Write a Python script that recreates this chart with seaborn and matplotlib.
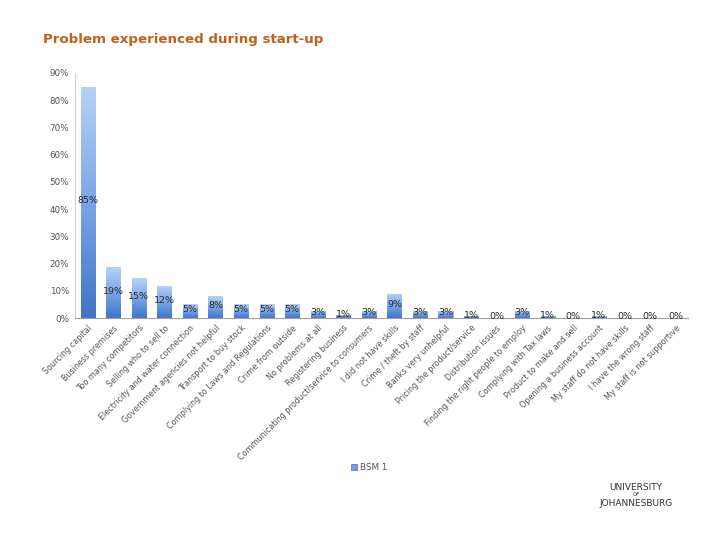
import matplotlib
matplotlib.use("Agg")
import matplotlib.pyplot as plt
import numpy as np
import pandas as pd
import seaborn as sns
from matplotlib.colors import LinearSegmentedColormap

categories = [
    "Sourcing capital", "Business premises", "Too many competitors",
    "Selling who to sell to", "Electricity and water connection",
    "Government agencies not helpful", "Transport to buy stock",
    "Complying to Laws and Regulations", "Crime from outside",
    "No problems at all", "Registering business",
    "Communicating product/service to consumers", "I did not have skills",
    "Crime / theft by staff", "Banks very unhelpful",
    "Pricing the product/service", "Distribution issues",
    "Finding the right people to employ", "Complying with Tax laws",
    "Product to make and sell", "Opening a business account",
    "My staff do not have skills", "I have the wrong staff",
    "My staff is not supportive",
]
values = [85, 18.6, 14.6, 11.8, 5, 8, 5, 5, 5, 2.6, 1.2, 2.6, 9, 2.6, 2.6,
          0.8, 0, 2.6, 0.7, 0, 0.7, 0, 0, 0]
y_ticks = [0, 10, 20, 30, 40, 50, 60, 70, 80, 90]
series_name = "BSM 1"

df = pd.DataFrame({"Problem": categories, "Percent": values, "Series": series_name})

sns.set_theme(style="white")
plt.rcParams["font.family"] = ["DejaVu Sans"]

fig = plt.figure(figsize=(7.2, 5.4), dpi=100)
ax = fig.add_axes([0.104, 0.411, 0.852, 0.454])

sns.barplot(data=df, x="Problem", y="Percent", hue="Series", ax=ax,
            width=0.55, palette=["#6f9ee3"], edgecolor="#7fa3d8",
            linewidth=0.6, legend=False)

cmap = LinearSegmentedColormap.from_list("bar", ["#3f74c6", "#7aa6e6", "#b7d2f8"])
grad = np.linspace(0, 1, 256).reshape(-1, 1)
for p in ax.patches:
    x0, w, h = p.get_x(), p.get_width(), p.get_height()
    if h <= 0:
        continue
    im = ax.imshow(grad, extent=[x0, x0 + w, 0, h], origin="lower", cmap=cmap,
                   aspect="auto", zorder=p.get_zorder() + 0.1)
    im.set_clip_path(p)
    p.set_facecolor("none")

for i, v in enumerate(values):
    ax.text(i, v / 2 + 0.6, f"{int(v + 0.5)}%", ha="center", va="center",
            fontsize=6.8, color="#2a2a2a", zorder=5)

ax.set_xlim(-0.5, len(categories) - 0.5)
ax.set_ylim(0, 90)
ax.set_yticks(y_ticks)
ax.set_yticklabels([f"{t}%" for t in y_ticks], fontsize=6.3, color="#555555")
ax.set_xticks(range(len(categories)))
ax.set_xticklabels(categories, rotation=45, ha="right", rotation_mode="anchor",
                   fontsize=5.8, color="#555555")
ax.tick_params(axis="both", length=0, pad=4)
ax.set_xlabel("")
ax.set_ylabel("")
for s in ["top", "right"]:
    ax.spines[s].set_visible(False)
ax.spines["left"].set_color("#d0d0d0")
ax.spines["bottom"].set_color("#a0a0a0")
ax.spines["left"].set_linewidth(0.8)
ax.spines["bottom"].set_linewidth(0.8)

fig.text(43 / 720, 1 - 40 / 540, "Problem experienced during start-up",
         fontsize=9.6, fontweight="bold", color="#c0601a", ha="left", va="center")

# legend
fig.patches.append(plt.Rectangle((351 / 720, 1 - 470 / 540), 6 / 720, 6 / 540,
                                 transform=fig.transFigure, facecolor="#6f9ee3",
                                 edgecolor="#3f74c6", linewidth=0.5))
fig.text(360 / 720, 1 - 467 / 540, series_name, fontsize=6.3, color="#555555",
         ha="left", va="center")

# university wordmark
fig.text(636 / 720, 1 - 487 / 540, "UNIVERSITY", fontsize=6.5, color="#333333",
         ha="center", va="center")
fig.text(636 / 720, 1 - 495 / 540, "OF", fontsize=4, color="#333333",
         ha="center", va="center")
fig.text(636 / 720, 1 - 503 / 540, "JOHANNESBURG", fontsize=6.5, color="#333333",
         ha="center", va="center")

fig.savefig("out.png", dpi=100)
